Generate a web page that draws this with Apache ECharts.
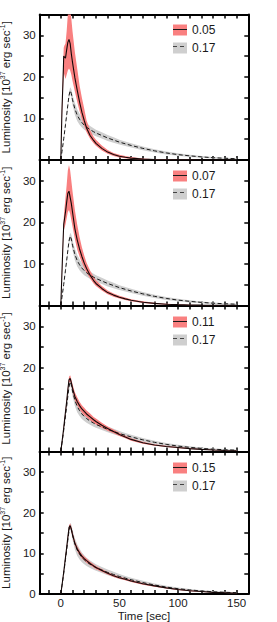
<!DOCTYPE html>
<html><head><meta charset="utf-8">
<script src="https://cdn.jsdelivr.net/npm/echarts@6/dist/echarts.min.js"></script>
<style>html,body{margin:0;padding:0;background:#fff}#c{width:277px;height:622px}</style>
</head><body><div id="c"></div>
<script>
// ---- data ----
const time = [0,1,2,2.5,3,4,5,6,7,8,9,10,12,14,16,18,20,22,25,28,30,35,40,45,50,55,60,70,80,90,100,110,120,130,140,150];

// reference curve (0.17), dashed, same in every panel
const ref017     = [0,2,4,5.1,6.2,8.5,10.8,13.2,15.5,16.7,16,14.5,12.3,10.8,9.8,9.0,8.4,7.9,7.3,6.8,6.5,5.9,5.3,4.8,4.3,3.9,3.5,2.8,2.2,1.7,1.3,1.0,0.75,0.55,0.42,0.32];
const ref017Low  = [0,1.8,3.7,4.75,5.8,8.0,10.2,12.5,14.7,15.9,15.0,13.3,10.9,9.4,8.5,7.8,7.3,6.9,6.4,5.95,5.7,5.15,4.6,4.15,3.7,3.35,3.0,2.35,1.8,1.35,1.0,0.75,0.55,0.37,0.27,0.2];
const ref017High = [0,2.2,4.3,5.45,6.6,9.0,11.4,13.9,16.3,17.5,17.0,15.7,13.7,12.2,11.1,10.2,9.5,8.9,8.2,7.65,7.3,6.65,6.0,5.45,4.9,4.45,4.0,3.25,2.6,2.05,1.6,1.25,0.95,0.73,0.57,0.44];

const v005     = [0,12,20,25,24.8,24.5,26.5,28.3,29,28,25.5,23.5,19.8,16.8,14,11.5,9.5,7.7,5.9,4.7,4.0,2.8,1.9,1.3,0.9,0.65,0.45,0.22,0.1,0.05,0.03,0.02,0.01,0,0,0];
const v005Low  = [0,10,17.5,21,20.5,19.5,20.5,21.5,22,21.5,20.5,19,16.5,14,11.8,9.8,8.2,6.7,5.1,4.0,3.4,2.3,1.5,0.95,0.6,0.4,0.25,0.1,0.04,0.02,0.01,0,0,0,0,0];
const v005High = [0,14,23,27,27.5,28,31,35,37,37,34,31,26,22,18,15,12.3,9.5,7.2,5.6,4.9,3.5,2.4,1.7,1.25,0.95,0.7,0.38,0.2,0.1,0.06,0.04,0.02,0.01,0,0];

const v007     = [0,8,16,19.5,20.5,22.5,24.8,27,27.5,26,24.5,22.5,18.5,15.8,13.6,11.8,10.2,8.9,7.3,6.0,5.3,4.1,3.1,2.5,2.0,1.6,1.25,0.8,0.5,0.3,0.2,0.13,0.08,0.05,0.03,0.02];
const v007Low  = [0,7,14.5,18,18.5,19.5,21,22.5,23,22,20.5,19,16,13.5,11.8,10.3,9,7.9,6.5,5.3,4.7,3.6,2.7,2.1,1.7,1.3,1.0,0.6,0.35,0.2,0.12,0.07,0.04,0.02,0.01,0];
const v007High = [0,9,17.5,21,23,26,29,32.5,33.8,32.5,30,27.5,23,19.5,16.5,14,12,10.3,8.4,6.9,6.1,4.7,3.6,2.9,2.35,1.9,1.5,1.0,0.65,0.42,0.28,0.19,0.12,0.08,0.05,0.03];

const v011     = [0,2.2,4.5,5.7,7,9.5,12,14.8,17.2,17.5,16.5,15.2,13.2,12,11,10.2,9.6,9.0,8.3,7.6,7.2,6.3,5.5,4.8,4.1,3.5,2.9,2.1,1.55,1.2,0.95,0.7,0.5,0.35,0.25,0.18];
const v011Low  = [0,2.0,4.2,5.3,6.5,9.0,11.4,14.2,16.5,16.8,15.8,14.4,12.3,11.1,10.1,9.3,8.7,8.2,7.5,6.9,6.5,5.7,5.0,4.35,3.7,3.15,2.6,1.85,1.35,1.05,0.8,0.58,0.4,0.27,0.18,0.12];
const v011High = [0,2.4,4.8,6.1,7.5,10.0,12.6,15.4,17.9,18.3,17.3,16.1,14.2,13.0,11.9,11.1,10.5,9.8,9.1,8.3,7.9,6.9,6.0,5.25,4.5,3.85,3.2,2.35,1.75,1.35,1.1,0.82,0.6,0.43,0.32,0.24];

const v015     = [0,2.1,4.3,5.4,6.6,9,11.4,13.9,16.3,16.8,15.9,14.6,12.5,11.1,10.1,9.3,8.7,8.2,7.5,6.9,6.5,5.8,5.1,4.5,4.0,3.6,3.2,2.5,2.0,1.5,1.1,0.8,0.6,0.4,0.3,0.2];
const v015Low  = [0,1.95,4.05,5.1,6.3,8.6,11.0,13.4,15.8,16.3,15.3,14.0,11.9,10.5,9.5,8.75,8.2,7.7,7.05,6.5,6.1,5.45,4.8,4.2,3.75,3.35,2.95,2.3,1.8,1.35,0.98,0.7,0.52,0.34,0.25,0.16];
const v015High = [0,2.25,4.55,5.7,6.9,9.4,11.8,14.4,16.8,17.3,16.5,15.2,13.1,11.7,10.7,9.85,9.2,8.7,7.95,7.3,6.9,6.15,5.4,4.8,4.25,3.85,3.45,2.7,2.2,1.65,1.22,0.9,0.68,0.46,0.35,0.24];

const panelLabels = ['0.05','0.07','0.11','0.15'];
const refLabel = '0.17';

const xTicks = [-10,0,10,20,30,40,50,60,70,80,90,100,110,120,130,140,150];
const xTickLabels = [0,50,100,150];
const yTicks = [5,10,15,20,25,30];
const yTickLabels = [10,20,30];
const yTickLabelsBottom = [0,10,20,30];

const xTitle = 'Time [sec]';
const yTitle = '{a|Luminosity [10}{s|37}{a| erg sec}{s|-1}{a|]}';

// ---- layout / style ----
const FONT = '"Liberation Sans", Arial, Helvetica, sans-serif';
const RED = '#f98080';
const GREY = '#cfcfcf';
const TXT = '#1a1a1a';
const gridTops = [14.5, 160, 305.5, 451.5];
const gridHeights = [145.5, 145.5, 146, 142.5];
const gridLeft = 39.7, gridWidth = 208.6;
const legendTops = [24, 170, 316, 462];
const legendLeft = 173;

const panels = [
  {v: v005, lo: v005Low, hi: v005High},
  {v: v007, lo: v007Low, hi: v007High},
  {v: v011, lo: v011Low, hi: v011High},
  {v: v015, lo: v015Low, hi: v015High}
];

const grids = [], xAxes = [], yAxes = [], series = [], legends = [], graphics = [];

function band(axisIdx, lo, hi, color, z) {
  const rows = time.map((t, k) => [t, lo[k], hi[k]]);
  return {
    type: 'custom', xAxisIndex: axisIdx, yAxisIndex: axisIdx, clip: true, silent: true, z: z,
    animation: false, data: rows, encode: {x: 0, y: [1, 2]},
    renderItem: function (params, api) {
      if (params.dataIndex !== 0) return null;
      const up = rows.map(r => api.coord([r[0], r[2]]));
      const dn = rows.slice().reverse().map(r => api.coord([r[0], r[1]]));
      return {type: 'polygon', shape: {points: up.concat(dn)}, style: {fill: color, stroke: null}};
    }
  };
}

panels.forEach((p, i) => {
  grids.push({left: gridLeft, width: gridWidth, top: gridTops[i], height: gridHeights[i],
              outerBoundsMode: 'none', containLabel: false});
  const isLast = i === panels.length - 1;
  const axLine = {show: true, onZero: false, lineStyle: {color: '#000', width: 2}};
  const tickStyle = {color: '#000', width: 1.5};
  // bottom x
  xAxes.push({
    gridIndex: i, type: 'value', min: -18, max: 160, position: 'bottom',
    axisLine: axLine, splitLine: {show: false},
    axisTick: {show: true, inside: true, length: 4, customValues: xTicks, lineStyle: tickStyle},
    axisLabel: {show: isLast, customValues: xTickLabels, fontSize: 11.5, color: TXT, fontFamily: FONT, margin: 3},
    name: isLast ? xTitle : '', nameLocation: 'middle', nameGap: 13,
    nameTextStyle: {fontSize: 11.5, color: TXT, fontFamily: FONT}
  });
  // top x
  xAxes.push({
    gridIndex: i, type: 'value', min: -18, max: 160, position: 'top',
    axisLine: axLine, splitLine: {show: false},
    axisTick: {show: true, inside: true, length: 4, customValues: xTicks, lineStyle: tickStyle},
    axisLabel: {show: false}
  });
  // left y
  yAxes.push({
    gridIndex: i, type: 'value', min: 0, max: 35, position: 'left',
    axisLine: axLine, splitLine: {show: false},
    axisTick: {show: true, inside: true, length: 4, customValues: yTicks, lineStyle: tickStyle},
    axisLabel: {show: true, customValues: isLast ? yTickLabelsBottom : yTickLabels, fontSize: 11.5, color: TXT, fontFamily: FONT, margin: 4},
    name: yTitle, nameLocation: 'middle', nameRotate: 90, nameGap: 20,
    nameTextStyle: {
      rich: {
        a: {fontSize: 11.5, color: TXT, fontFamily: FONT, lineHeight: 14},
        s: {fontSize: 7, color: TXT, fontFamily: FONT, verticalAlign: 'top', lineHeight: 14}
      }
    }
  });
  // right y
  yAxes.push({
    gridIndex: i, type: 'value', min: 0, max: 35, position: 'right',
    axisLine: axLine, splitLine: {show: false},
    axisTick: {show: true, inside: true, length: 4, customValues: yTicks, lineStyle: tickStyle},
    axisLabel: {show: false}
  });

  const ax = 2 * i;
  series.push(band(ax, ref017Low, ref017High, GREY, 1));
  series.push(band(ax, p.lo, p.hi, RED, 1));
  series.push({
    type: 'line', name: refLabel, xAxisIndex: ax, yAxisIndex: ax,
    data: time.map((t, k) => [t, ref017[k]]), showSymbol: false, symbol: 'none',
    lineStyle: {color: '#1a1a1a', width: 1, type: [4, 2.5]}, itemStyle: {color: GREY},
    silent: true, animation: false, z: 3, clip: true
  });
  series.push({
    type: 'line', name: panelLabels[i], xAxisIndex: ax, yAxisIndex: ax,
    data: time.map((t, k) => [t, p.v[k]]), showSymbol: false, symbol: 'none',
    lineStyle: {color: '#140808', width: 1.1}, itemStyle: {color: RED},
    silent: true, animation: false, z: 4, clip: true
  });

  legends.push({
    orient: 'vertical', left: legendLeft, top: legendTops[i], padding: 0,
    itemWidth: 14, itemHeight: 11, itemGap: 6, selectedMode: false,
    textStyle: {fontSize: 12, color: TXT, fontFamily: FONT, lineHeight: 11},
    data: [
      {name: panelLabels[i], icon: 'rect', itemStyle: {color: RED, borderWidth: 0}},
      {name: refLabel, icon: 'rect', itemStyle: {color: GREY, borderWidth: 0}}
    ]
  });
  const y1 = legendTops[i] + 5.5, y2 = legendTops[i] + 17 + 5.5;
  graphics.push({type: 'line', z: 100, silent: true,
    shape: {x1: legendLeft, y1: y1, x2: legendLeft + 14, y2: y1},
    style: {stroke: '#1a1a1a', lineWidth: 1}});
  graphics.push({type: 'line', z: 100, silent: true,
    shape: {x1: legendLeft, y1: y2, x2: legendLeft + 14, y2: y2},
    style: {stroke: '#444', lineWidth: 1, lineDash: [4, 3]}});
});

const chart = echarts.init(document.getElementById('c'), null, {renderer: 'svg', width: 277, height: 622});
chart.setOption({
  animation: false,
  backgroundColor: '#fff',
  grid: grids, xAxis: xAxes, yAxis: yAxes, series: series, legend: legends,
  graphic: graphics
});
</script></body></html>
